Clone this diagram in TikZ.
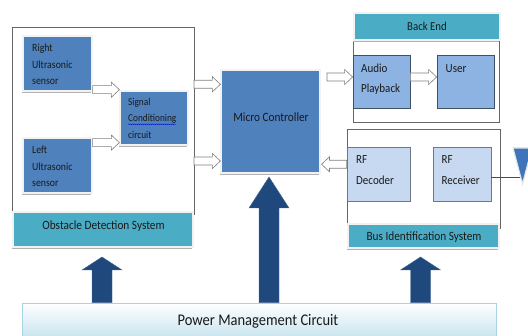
\documentclass[tikz,border=0pt]{standalone}
\usepackage{fontspec}
\usepackage{graphicx}
\setmainfont{Carlito}
\usetikzlibrary{calc,shadows,decorations.pathmorphing}
\definecolor{dblue}{HTML}{4F81BD}
\definecolor{teal2}{HTML}{4BACC6}
\definecolor{lblue}{HTML}{8DB3E2}
\definecolor{pblue}{HTML}{C6D9F1}
\definecolor{navy}{HTML}{1F497D}
\definecolor{pmcb}{HTML}{C6E3EE}
\definecolor{pmcd}{HTML}{A9D3E2}
\definecolor{tcol}{HTML}{1A1A1A}
\definecolor{antblue}{HTML}{3F74BA}
\newcommand\vs[1]{\scalebox{1}[1.12]{#1}}
\newcommand\rharrow[2]{\draw[hollow] let \p1=(#1), \p2=(#2) in (\x1,\y1+4pt) -- (\x2-8pt,\y1+4pt) -- (\x2-8pt,\y1+7.5pt) -- (\x2,\y1) -- (\x2-8pt,\y1-7.5pt) -- (\x2-8pt,\y1-4pt) -- (\x1,\y1-4pt) -- cycle;}
\newcommand\lharrow[2]{\draw[hollow] let \p1=(#1), \p2=(#2) in (\x1,\y1+4pt) -- (\x2+8pt,\y1+4pt) -- (\x2+8pt,\y1+7.5pt) -- (\x2,\y1) -- (\x2+8pt,\y1-7.5pt) -- (\x2+8pt,\y1-4pt) -- (\x1,\y1-4pt) -- cycle;}
\newcommand\bigup[3]{\filldraw[bigarrow] let \p1=(#1), \p2=(#2) in (\x2-10pt,\y1) -- (\x2-10pt,\y2-#3) -- (\x2-20pt,\y2-#3) -- (\x2,\y2) -- (\x2+20pt,\y2-#3) -- (\x2+10pt,\y2-#3) -- (\x2+10pt,\y1) -- cycle;}
\begin{document}
\begin{tikzpicture}[x=1pt,y=-1pt,
 shad/.style={drop shadow={shadow xshift=-0.8pt, shadow yshift=-2.5pt, fill=black!30, opacity=1}},
 dbox/.style={shad, fill=dblue, draw=white!90!gray, line width=1.2pt, inner sep=0pt},
 tbox/.style={shad, fill=teal2, draw=white!90!gray, line width=1.2pt, inner sep=0pt},
 lbox/.style={fill=lblue, draw=black!55!lblue, line width=0.7pt, inner sep=0pt},
 pbox/.style={fill=pblue, draw=black!45!pblue, line width=0.7pt, inner sep=0pt},
 frame/.style={draw=black!60, line width=0.6pt},
 hollow/.style={draw=black!50, fill=white, line width=0.6pt, line join=miter},
 bigarrow/.style={fill=navy, draw=navy!85!white, line width=0.4pt},
 txt/.style={inner sep=0pt, text=tcol},
 f9/.style={font=\fontsize{9.8}{14.7}\selectfont},
 f93/.style={font=\fontsize{9.3}{14.9}\selectfont},
 f11/.style={font=\fontsize{11}{18.3}\selectfont},
]
\useasboundingbox (0,0) rectangle (528,336);
% frames
\draw[frame] (12,27) rectangle (194,214);
\draw[frame] (353,38) rectangle (499,122);
\draw[frame] (347,129) rectangle (500,228);
% boxes
\node[dbox, minimum width=69pt, minimum height=55pt] (rs) at (57.5,63.5) {};
\node[dbox, minimum width=69pt, minimum height=55pt] (ls) at (57.5,165.5) {};
\node[dbox, minimum width=68pt, minimum height=54pt] (sc) at (154,118) {};
\node[tbox, minimum width=180pt, minimum height=35pt] (ods) at (103,229.5) {};
\node[dbox, minimum width=99pt, minimum height=103pt] (mc) at (270.5,121.5) {};
\node[tbox, minimum width=146pt, minimum height=27pt] (be) at (427,26.5) {};
\node[lbox, minimum width=57pt, minimum height=53pt] (ap) at (381.5,81.5) {};
\node[lbox, minimum width=57pt, minimum height=53pt] (us) at (465.5,81.5) {};
\node[pbox, minimum width=63pt, minimum height=54pt] (rfd) at (378.5,174) {};
\node[pbox, minimum width=58pt, minimum height=54pt] (rfr) at (462,174) {};
\node[tbox, minimum width=151pt, minimum height=24pt] (bis) at (423.5,236) {};
% texts
\node[txt, f9, anchor=base west] (rst) at (32,51.8) {\vs{\vtop{\hbox{Right}\hbox{Ultrasonic}\hbox{sensor}}}};
\node[txt, f9, anchor=base west] (lst) at (32,153.8) {\vs{\vtop{\hbox{Left}\hbox{Ultrasonic}\hbox{sensor}}}};
\node[txt, f93, anchor=base west] (sct) at (128,105.2) {\vs{\vtop{\hbox{Signal}\hbox{Conditioning}\hbox{circuit}}}};
\draw[blue, line width=0.4pt, decorate, decoration={snake, amplitude=0.35pt, segment length=2pt}] (128,124.3) -- (176,124.3);
\node[txt, font=\fontsize{11.3}{13}\selectfont, anchor=base] (mct) at (271,122) {\vs{Micro Controller}};
\node[txt, font=\fontsize{11.3}{13}\selectfont, anchor=base] (odst) at (103.5,229.5) {\vs{Obstacle Detection System}};
\node[txt, font=\fontsize{10.8}{13}\selectfont, anchor=base] (bet) at (427,30.8) {\vs{Back End}};
\node[txt, f11, anchor=base west] (apt) at (361,72.3) {\vs{\vtop{\hbox{Audio}\hbox{Playback}}}};
\node[txt, f11, anchor=base west] (ust) at (445.5,72.3) {\vs{User}};
\node[txt, f11, anchor=base west] (rfdt) at (356,163.8) {\vs{\vtop{\hbox{RF}\hbox{Decoder}}}};
\node[txt, f11, anchor=base west] (rfrt) at (441.5,163.8) {\vs{\vtop{\hbox{RF}\hbox{Receiver}}}};
\node[txt, font=\fontsize{11.3}{13}\selectfont, anchor=base] (bist) at (424,240.8) {\vs{Bus Identification System}};
% antenna
\coordinate (ant) at (522,177);
\draw[black!70, line width=0.6pt] (rfr.east |- ant) -- (ant);
\filldraw[fill=antblue, draw=white!80!gray, line width=1.2pt, line join=miter] (513,148) -- (532,148) -- (522.5,184) -- cycle;
% hollow arrows
\coordinate (a1s) at (rs.east |- 0,89.7);
\coordinate (a1e) at (sc.west |- a1s);
\coordinate (a2s) at (ls.east |- 0,142.6);
\coordinate (a2e) at (sc.west |- a2s);
\coordinate (a3s) at (194,84.3);
\coordinate (a3e) at (mc.west |- a3s);
\coordinate (a4s) at (194,161);
\coordinate (a4e) at (mc.west |- a4s);
\coordinate (a5s) at (327,77);
\coordinate (a5e) at (ap.west |- a5s);
\coordinate (a6s) at (ap.east |- 0,77);
\coordinate (a6e) at (us.west |- a6s);
\coordinate (a7s) at (rfd.west |- 0,164.3);
\coordinate (a7e) at (321.5,164.3);
\rharrow{a1s}{a1e}
\rharrow{a2s}{a2e}
\rharrow{a3s}{a3e}
\rharrow{a4s}{a4e}
\rharrow{a5s}{a5e}
\rharrow{a6s}{a6e}
\lharrow{a7s}{a7e}
% power management
\node[draw=pmcd, line width=0.8pt, top color=white, bottom color=pmcb, minimum width=474pt, minimum height=36pt, inner sep=0pt] (pmc) at (259,321) {};
\node[txt, font=\fontsize{14.5}{16}\selectfont, anchor=base] (pmct) at (258,325.5) {\vs{Power Management Circuit}};
% big arrows
\coordinate (t1) at (102,257);
\coordinate (t2) at (269,177);
\coordinate (t3) at (420.5,257);
\bigup{t1 |- pmc.north}{t1}{13pt}
\bigup{t2 |- pmc.north}{t2}{31pt}
\bigup{t3 |- pmc.north}{t3}{13pt}
\end{tikzpicture}
\end{document}
